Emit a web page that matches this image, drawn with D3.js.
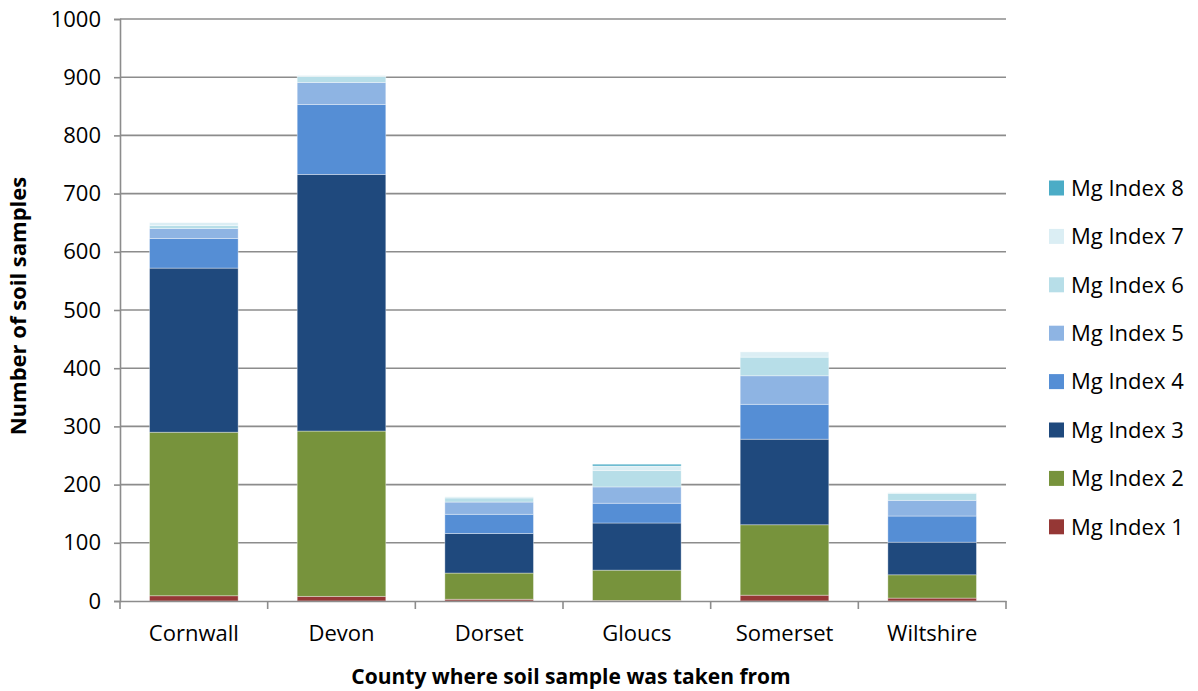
<!DOCTYPE html>
<html lang="en">
<head>
<meta charset="UTF-8">
<title>Mg Index by county</title>
<style>
    body { margin: 0; background: #fff; }
    svg text { font-family: "Open Sans", Calibri, sans-serif; fill: #000; }
</style>
</head>
<body>
<div id="chart"></div>
<script src="https://d3js.org/d3.v7.min.js"></script>
<script>
    // counties and soil sample counts per Mg index
    const counties = ["Cornwall", "Devon", "Dorset", "Gloucs", "Somerset", "Wiltshire"];
    const seriesNames = ["Mg Index 1", "Mg Index 2", "Mg Index 3", "Mg Index 4",
                         "Mg Index 5", "Mg Index 6", "Mg Index 7", "Mg Index 8"];
    const mg1 = [9, 8, 3, 1, 10, 5];
    const mg2 = [281, 284, 45, 52, 121, 40];
    const mg3 = [282, 441, 68, 81, 147, 56];
    const mg4 = [51, 120, 33, 34, 60, 45];
    const mg5 = [17, 38, 21, 28, 49, 27];
    const mg6 = [5, 10, 7, 28, 32, 12];
    const mg7 = [5, 2, 2, 8, 9, 1];
    const mg8 = [0, 0, 0, 3, 0, 0];
    const yTicks = [0, 100, 200, 300, 400, 500, 600, 700, 800, 900, 1000];
    const colors = ["#953735", "#77933C", "#1F497D", "#558ED5",
                    "#8EB4E3", "#B7DEE8", "#DBEEF4", "#4BACC6"];

    const allSeries = [mg1, mg2, mg3, mg4, mg5, mg6, mg7, mg8];
    const rows = counties.map((c, i) => {
        const r = { county: c };
        seriesNames.forEach((s, k) => r[s] = allSeries[k][i]);
        return r;
    });
    const stacked = d3.stack().keys(seriesNames)(rows);

    const W = 1198, H = 691;
    const margin = { top: 19, right: 192, bottom: 90, left: 120 };
    const width = W - margin.left - margin.right,
          height = H - margin.top - margin.bottom;

    const svg = d3.select("#chart").append("svg")
        .attr("width", W).attr("height", H);
    const g = svg.append("g")
        .attr("transform", `translate(${margin.left},${margin.top})`);

    const x = d3.scaleBand().domain(counties).range([0, width])
        .paddingInner(0.4).paddingOuter(0.2);
    const y = d3.scaleLinear().domain([0, 1000]).range([height, 0]);

    // gridlines
    g.append("g").selectAll("line")
        .data(yTicks.filter(d => d > 0))
        .join("line")
        .attr("x1", 0).attr("x2", width)
        .attr("y1", d => y(d)).attr("y2", d => y(d))
        .attr("stroke", "#8c8c8c").attr("stroke-width", 1.6);

    // bars
    g.append("g").selectAll("g")
        .data(stacked)
        .join("g")
        .attr("fill", (d, i) => colors[i])
        .selectAll("rect")
        .data(d => d)
        .join("rect")
        .attr("x", d => x(d.data.county))
        .attr("width", x.bandwidth())
        .attr("y", d => y(d[1]))
        .attr("height", d => y(d[0]) - y(d[1]))
        .attr("stroke", "rgba(255,255,255,0.45)")
        .attr("stroke-width", 0.8);

    // y axis
    const yAxis = g.append("g")
        .call(d3.axisLeft(y).tickValues(yTicks).tickFormat(d3.format("d"))
            .tickSize(6).tickPadding(13));
    yAxis.select(".domain").attr("stroke", "#8c8c8c").attr("stroke-width", 1.6);
    yAxis.selectAll(".tick line").attr("stroke", "#8c8c8c").attr("stroke-width", 1.6);
    yAxis.selectAll(".tick text").style("font-size", "22px").attr("fill", "#000");

    // x axis: ticks between categories like in spreadsheet charts
    const xAxis = g.append("g").attr("transform", `translate(0,${height})`)
        .call(d3.axisBottom(x).tickSize(0).tickPadding(24));
    xAxis.select(".domain").attr("stroke", "#8c8c8c").attr("stroke-width", 1.6);
    xAxis.selectAll(".tick text").style("font-size", "22px").attr("fill", "#000");
    g.append("g").selectAll("line")
        .data(d3.range(counties.length + 1))
        .join("line")
        .attr("x1", i => i * width / counties.length)
        .attr("x2", i => i * width / counties.length)
        .attr("y1", height).attr("y2", height + 8)
        .attr("stroke", "#8c8c8c").attr("stroke-width", 1.6);

    // axis titles
    svg.append("text")
        .attr("x", margin.left + width / 2 + 8).attr("y", 684)
        .attr("text-anchor", "middle")
        .style("font-size", "21px").style("font-weight", "bold")
        .text("County where soil sample was taken from");
    svg.append("text")
        .attr("transform", `translate(26,${margin.top + height / 2 - 4}) rotate(-90)`)
        .attr("text-anchor", "middle")
        .style("font-size", "22px").style("font-weight", "bold")
        .text("Number of soil samples");

    // legend, top entry is the last series
    const legend = svg.append("g").attr("transform", "translate(1049,188)");
    const items = legend.selectAll("g")
        .data(seriesNames.map((s, i) => ({ s, i })).reverse())
        .join("g")
        .attr("transform", (d, j) => `translate(0,${j * 48.4})`);
    items.append("rect")
        .attr("x", 0).attr("y", -7.5).attr("width", 15).attr("height", 15)
        .attr("fill", d => colors[d.i]);
    items.append("text")
        .attr("x", 22).attr("y", 0).attr("dy", "0.35em")
        .style("font-size", "22px")
        .text(d => d.s);
</script>
</body>
</html>
